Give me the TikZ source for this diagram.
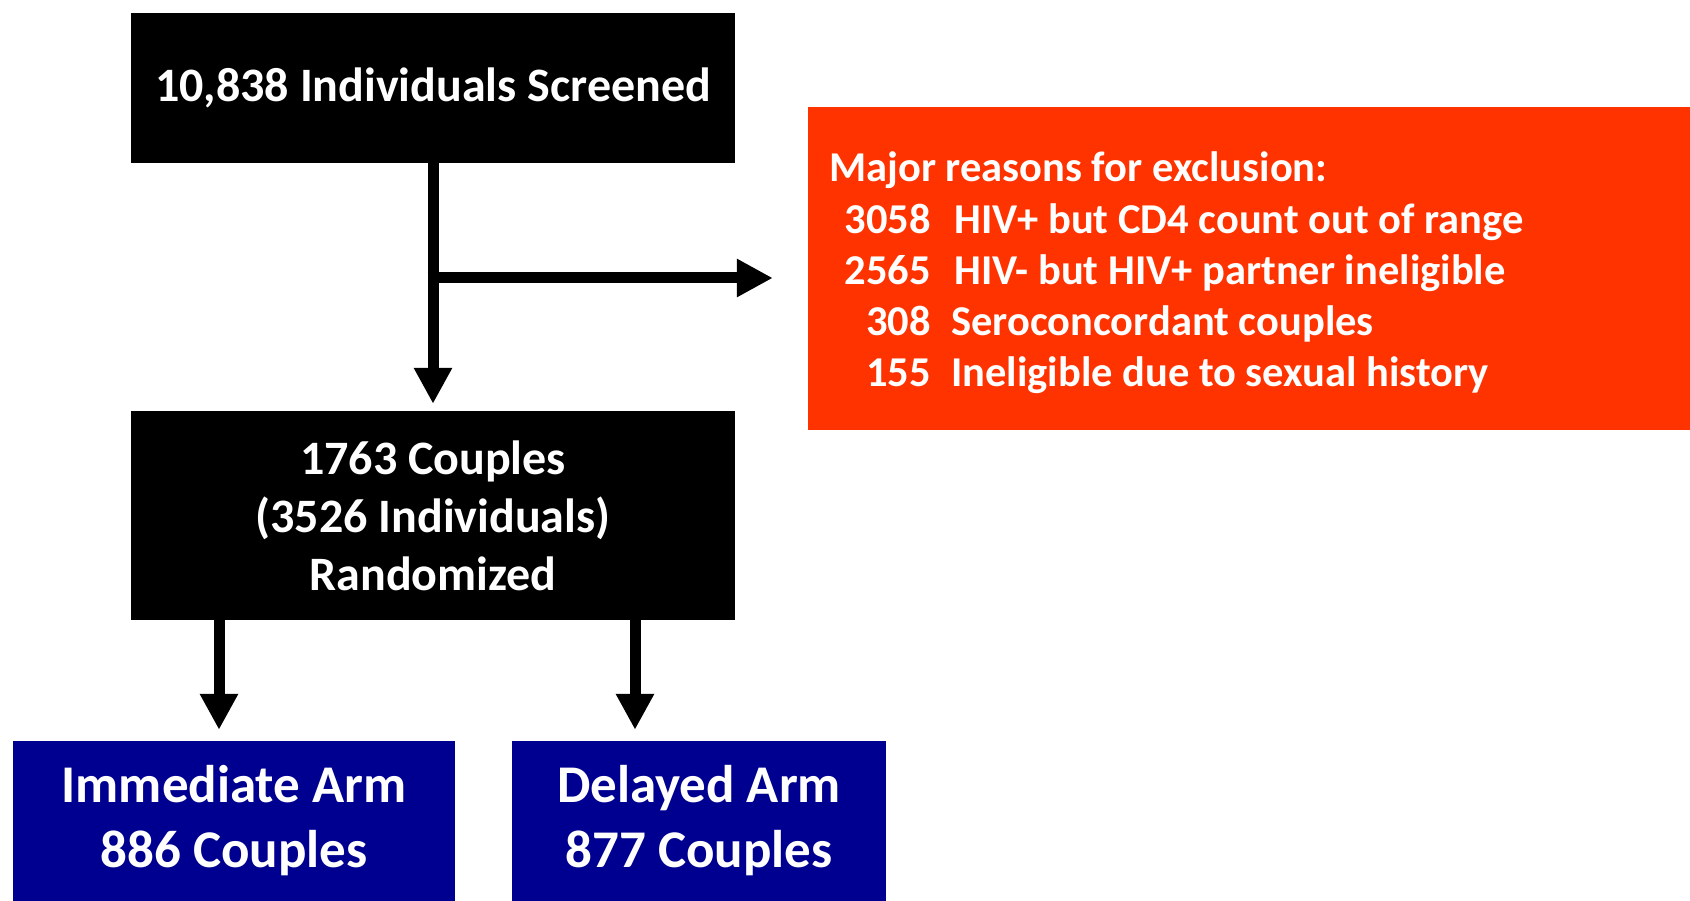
\documentclass[tikz,border=0pt]{standalone}
\usepackage{fontspec}
\setmainfont{Carlito}
\usetikzlibrary{arrows.meta}
\definecolor{exred}{RGB}{255,51,0}
\definecolor{armblue}{RGB}{0,0,144}
\tikzset{
  box/.style={draw=none, inner sep=0pt, text=white, align=center, font=\bfseries},
  blackbox/.style={box, fill=black},
  bluebox/.style={box, fill=armblue},
  reason/.style={text=white, inner sep=0pt, font=\bfseries\fontsize{42.5}{51}\selectfont},
  arr/.style={line width=11pt, -{Triangle[width=36pt,length=36pt]}},
}
\begin{document}
\begin{tikzpicture}[x=1pt,y=-1pt]
\useasboundingbox (0,0) rectangle (1690,901);
\node[blackbox, minimum width=604pt, minimum height=150pt, font=\bfseries\fontsize{48}{57}\selectfont] (top) at (433,88) {10,838 Individuals Screened};
\node[blackbox, minimum width=604pt, minimum height=209pt, font=\bfseries\fontsize{48}{58}\selectfont] (mid) at (433,515.5) {1763 Couples\\(3526 Individuals)\\Randomized};
\node[box, fill=exred, minimum width=882pt, minimum height=323pt] (red) at (1249,268.5) {};
\node[reason, anchor=base west] (hdr) at (829,182) {Major reasons for exclusion:};
\node[reason, anchor=base east] (n1) at (931,233.5) {3058};
\node[reason, anchor=base west] (t1) at (954,233.5) {HIV+ but CD4 count out of range};
\node[reason, anchor=base east] (n2) at (931,284.5) {2565};
\node[reason, anchor=base west] (t2) at (954,284.5) {HIV- but HIV+ partner ineligible};
\node[reason, anchor=base east] (n3) at (931,335.5) {308};
\node[reason, anchor=base west] (t3) at (951,335.5) {Seroconcordant couples};
\node[reason, anchor=base east] (n4) at (931,387) {155};
\node[reason, anchor=base west] (t4) at (951,387) {Ineligible due to sexual history};
\node[bluebox, minimum width=442pt, minimum height=160pt, font=\bfseries\fontsize{53}{65}\selectfont] (imm) at (234,821) {Immediate Arm\\886 Couples};
\node[bluebox, minimum width=374pt, minimum height=160pt, font=\bfseries\fontsize{53}{65}\selectfont] (del) at (699,821) {Delayed Arm\\877 Couples};
\draw[arr, shorten >=7pt] (top.south) -- (mid.north);
\coordinate (br) at (433,278);
\draw[arr] ([xshift=-5.5pt]br) -- ([xshift=-35pt]red.west |- br);
\coordinate (a1) at (219,620);
\coordinate (a2) at (635,620);
\draw[arr, shorten >=11pt] (a1) -- (a1 |- imm.north);
\draw[arr, shorten >=11pt] (a2) -- (a2 |- del.north);
\end{tikzpicture}
\end{document}
